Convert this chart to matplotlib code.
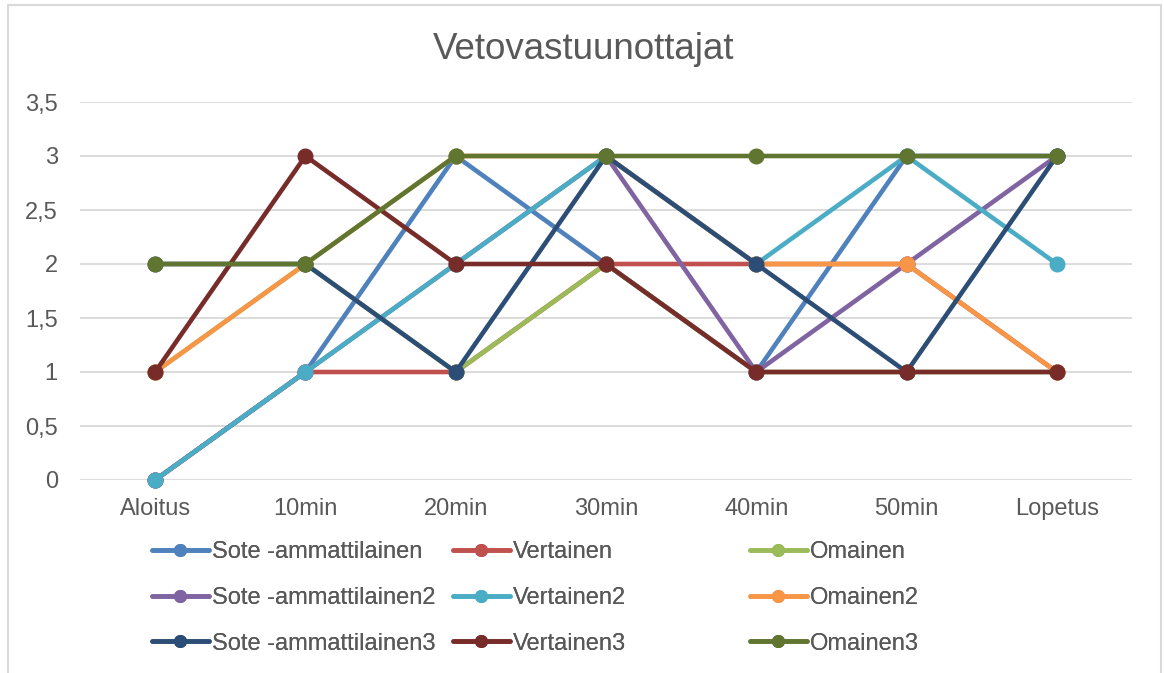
import matplotlib
matplotlib.use("Agg")
import matplotlib.pyplot as plt
from matplotlib.patches import Rectangle

plt.rcParams['font.family'] = ['Liberation Sans', 'DejaVu Sans']

categories = ['Aloitus', '10min', '20min', '30min', '40min', '50min', 'Lopetus']

sote = [0, 1, 3, 2, 1, 3, 3]
vertainen = [0, 1, 1, 2, 2, 2, 1]
omainen = [1, 2, 1, 2, 1, 1, 1]
sote2 = [0, 1, 2, 3, 1, 2, 3]
vertainen2 = [0, 1, 2, 3, 2, 3, 2]
omainen2 = [1, 2, 3, 3, 2, 2, 1]
sote3 = [2, 2, 1, 3, 2, 1, 3]
vertainen3 = [1, 3, 2, 2, 1, 1, 1]
omainen3 = [2, 2, 3, 3, 3, 3, 3]

series_names = ['Sote -ammattilainen', 'Vertainen', 'Omainen',
                'Sote -ammattilainen2', 'Vertainen2', 'Omainen2',
                'Sote -ammattilainen3', 'Vertainen3', 'Omainen3']
series_values = [sote, vertainen, omainen, sote2, vertainen2, omainen2,
                 sote3, vertainen3, omainen3]
colors = ['#4F81BD', '#C0504D', '#9BBB59', '#8064A2', '#4BACC6', '#F79646',
          '#2C4D75', '#772C2A', '#5F7530']

y_ticks = [0, 0.5, 1, 1.5, 2, 2.5, 3, 3.5]
y_labels = ['0', '0,5', '1', '1,5', '2', '2,5', '3', '3,5']

text_col = '#595959'
grid_col = '#D9D9D9'
W, H = 1164, 673

fig = plt.figure(figsize=(W / 100, H / 100), dpi=100)
ax = fig.add_axes([80 / W, 1 - 480 / H, (1132 - 80) / W, (480 - 102) / H])

x = list(range(len(categories)))
lines = []
for name, vals, c in zip(series_names, series_values, colors):
    ln, = ax.plot(x, vals, color=c, lw=3.3, marker='o', ms=10.5,
                  solid_capstyle='round', label=name, clip_on=False)
    lines.append(ln)

ax.set_xlim(-0.5, len(categories) - 0.5)
ax.set_ylim(0, 3.5)
ax.set_yticks(y_ticks)
ax.set_yticklabels(y_labels)
ax.set_xticks(x)
ax.set_xticklabels(categories)
ax.tick_params(axis='both', length=0, labelsize=17, labelcolor=text_col)
ax.tick_params(axis='y', pad=16)
ax.tick_params(axis='x', pad=13)
ax.grid(axis='y', color=grid_col, lw=1.3)
ax.set_axisbelow(True)
for s in ax.spines.values():
    s.set_visible(False)

fig.text(584 / W, 1 - 59 / H, 'Vetovastuunottajat', ha='center', va='baseline',
         fontsize=26.5, color=text_col)

# legend: three equal-width columns
col_x = [152, 453, 750]
for ci in range(3):
    hs = [lines[ci], lines[ci + 3], lines[ci + 6]]
    leg = fig.legend(handles=hs, labels=[h.get_label() for h in hs],
                     loc='center left', bbox_to_anchor=(col_x[ci] / W, 1 - 598 / H),
                     frameon=False, fontsize=17, labelcolor=text_col,
                     handlelength=2.4, handletextpad=0.15, borderpad=0,
                     borderaxespad=0, labelspacing=1.0, markerscale=0.8)
    fig.add_artist(leg)

# chart-area border
fig.add_artist(Rectangle((8 / W, -0.05), (1161 - 8) / W, 1 - 5 / H + 0.05,
                         transform=fig.transFigure, fill=False,
                         edgecolor=grid_col, lw=1.5))

fig.savefig('out.png', dpi=100)
